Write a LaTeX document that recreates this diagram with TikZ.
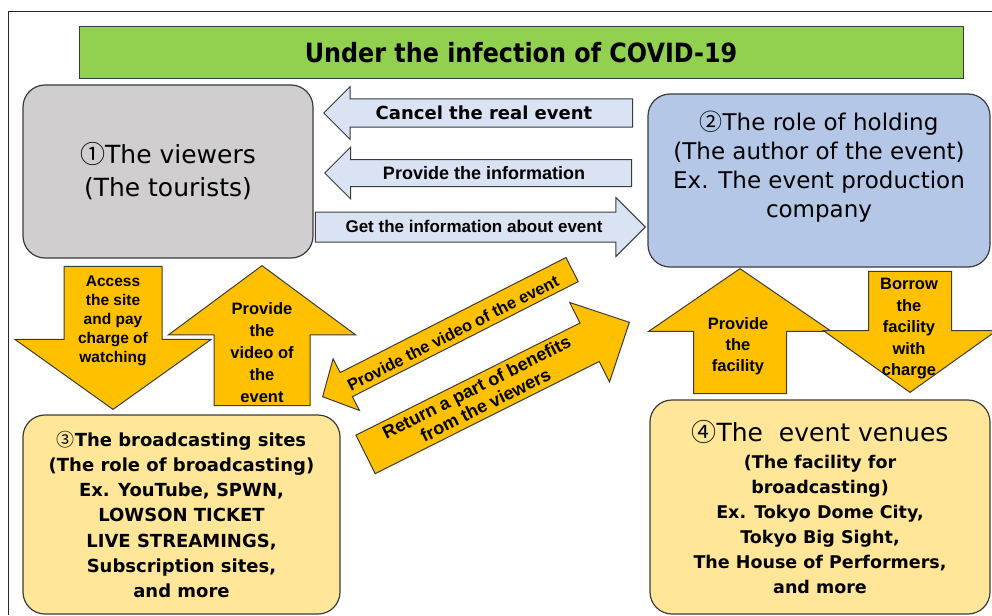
\documentclass[tikz,border=0pt]{standalone}
\usepackage{fontspec}
\setmainfont{DejaVu Sans}
\newfontfamily\arialfont{Liberation Sans}
\newfontfamily\headfont{DejaVu Sans}[FakeStretch=0.9]
\newfontfamily\cjkfont{Noto Sans CJK JP}
\usetikzlibrary{shapes.arrows}
\definecolor{titlegreen}{HTML}{92D050}
\definecolor{viewgray}{HTML}{D0CECE}
\definecolor{holdblue}{HTML}{B4C7E7}
\definecolor{infoblue}{HTML}{DAE3F3}
\definecolor{flowgold}{HTML}{FFC000}
\definecolor{siteyellow}{HTML}{FFE699}
\definecolor{edge}{HTML}{3B3B3B}
\newcommand{\setfs}[2]{\fontsize{#1}{#2}\selectfont}
\newcommand{\party}[1]{{\cjkfont\mdseries #1}}

\begin{document}
\begin{tikzpicture}[
   x=1pt, y=-1pt,
   box/.style = {draw=edge, line width=1.2pt, rounded corners=22pt,
                 align=center, inner sep=0pt},
   blockarr/.style = {single arrow, draw=edge, line width=1pt,
                      single arrow head indent=0pt, anchor=tip},
   infoarr/.style = {blockarr, fill=infoblue},
   flowarr/.style = {blockarr, fill=flowgold},
   lbl/.style = {align=center, inner sep=0pt, font=\arialfont\bfseries\setfs{16}{19}}
]
\useasboundingbox (0,0) rectangle (992,615);
\draw[line width=1pt, black!85] (8,615) -- (8,12) -- (992,12);

\node[draw=edge, line width=1pt, fill=titlegreen, minimum width=884pt,
      minimum height=52pt, font=\headfont\bfseries\setfs{26.5}{30}] (title) at (521,53)
      {Under the infection of COVID-19};

% the four parties
\node[box, fill=viewgray, minimum width=290pt, minimum height=173pt,
      font=\setfs{25}{33}] (viewers) at (168,171.5) {\party{①}The viewers\\(The tourists)};
\node[box, fill=holdblue, minimum width=342pt, minimum height=173pt, text depth=32pt,
      font=\setfs{23}{29}] (holding) at (819,180.5)
      {\party{②}The role of holding\\(The author of the event)\\Ex. The event production\\company};
\node[box, fill=siteyellow, minimum width=317pt, minimum height=199pt,
      font=\bfseries\setfs{18}{25.3}] (sites) at (181.5,514.5)
      {\party{③}The broadcasting sites\\(The role of broadcasting)\\Ex. YouTube, SPWN,\\LOWSON TICKET\\LIVE STREAMINGS,\\Subscription sites,\\and more};
\node[box, fill=siteyellow, minimum width=340pt, minimum height=214pt,
      font=\bfseries\setfs{17.5}{25}] (venues) at (820,507)
      {{\mdseries\setfs{25}{30}\party{④}The\ \ event venues}\\[2.5pt](The facility for\\broadcasting)\\Ex. Tokyo Dome City,\\Tokyo Big Sight,\\The House of Performers,\\and more};

% viewers <-> holding
\node[infoarr, shape border rotate=180, inner sep=13.5pt, minimum height=309pt,
      minimum width=52pt, single arrow head extend=12.5pt] (cancel) at (323,113) {};
\node[infoarr, shape border rotate=180, inner sep=13pt, minimum height=307pt,
      minimum width=51pt, single arrow head extend=12.5pt] (inform) at (324,173) {};
\node[infoarr, inner sep=14.5pt, minimum height=330pt, minimum width=58pt,
      single arrow head extend=14.5pt] (getinfo) at (646,227) {};
\node[lbl, font=\bfseries\setfs{18}{20}] (cancellbl) at (484,113) {Cancel the real event};
\node[lbl, font=\arialfont\bfseries\setfs{18}{20}] (informlbl) at (484,173) {Provide the information};
\node[lbl, font=\arialfont\bfseries\setfs{17}{20}] (getinfolbl) at (474,226) {Get the information about event};

% viewers <-> sites
\node[flowarr, shape border rotate=270, inner sep=48.5pt, minimum height=143pt,
      minimum width=195pt, single arrow head extend=49pt, single arrow tip angle=109] (access) at (113,410) {};
\node[flowarr, shape border rotate=90, inner sep=47.5pt, minimum height=140pt,
      minimum width=186pt, single arrow head extend=45.5pt, single arrow tip angle=107] (video) at (262,265) {};
\node[lbl, font=\arialfont\bfseries\setfs{15.5}{19}] (accesslbl) at (113,321)
      {Access\\the site\\and pay\\charge of\\watching};
\node[lbl, font=\arialfont\bfseries\setfs{16.5}{22}] (videolbl) at (262,353)
      {Provide\\the\\video of\\the\\event};

% holding <-> sites
\node[flowarr, rotate=27, shape border rotate=180, inner sep=13pt, minimum height=280pt,
      minimum width=57pt, single arrow head extend=15.5pt, single arrow tip angle=95] (stream) at (322,397) {};
\node[flowarr, rotate=26.6, inner sep=21pt, minimum height=295pt, minimum width=88pt,
      single arrow head extend=23pt] (share) at (630,322) {};
\node[lbl, rotate=27, font=\arialfont\bfseries\setfs{16.5}{19}] (streamlbl) at (453,333)
      {Provide the video of the event};
\node[lbl, rotate=26.6, font=\arialfont\bfseries\setfs{18}{20}] (sharelbl) at (481,396)
      {Return a part of benefits\\from the viewers};

% holding <-> venues
\node[flowarr, shape border rotate=90, inner sep=46pt, minimum height=124pt,
      minimum width=182pt, single arrow head extend=45pt, single arrow tip angle=111] (facility) at (740,268) {};
\node[flowarr, shape border rotate=270, inner sep=41pt, minimum height=121pt,
      minimum width=172pt, single arrow head extend=45pt, single arrow tip angle=109] (borrow) at (910,393) {};
\node[lbl, font=\arialfont\bfseries\setfs{16.5}{21}] (facilitylbl) at (738,346)
      {Provide\\the\\facility};
\node[lbl, font=\arialfont\bfseries\setfs{16.5}{21.5}] (borrowlbl) at (909,329)
      {Borrow\\the\\facility\\with\\charge};
\end{tikzpicture}
\end{document}
